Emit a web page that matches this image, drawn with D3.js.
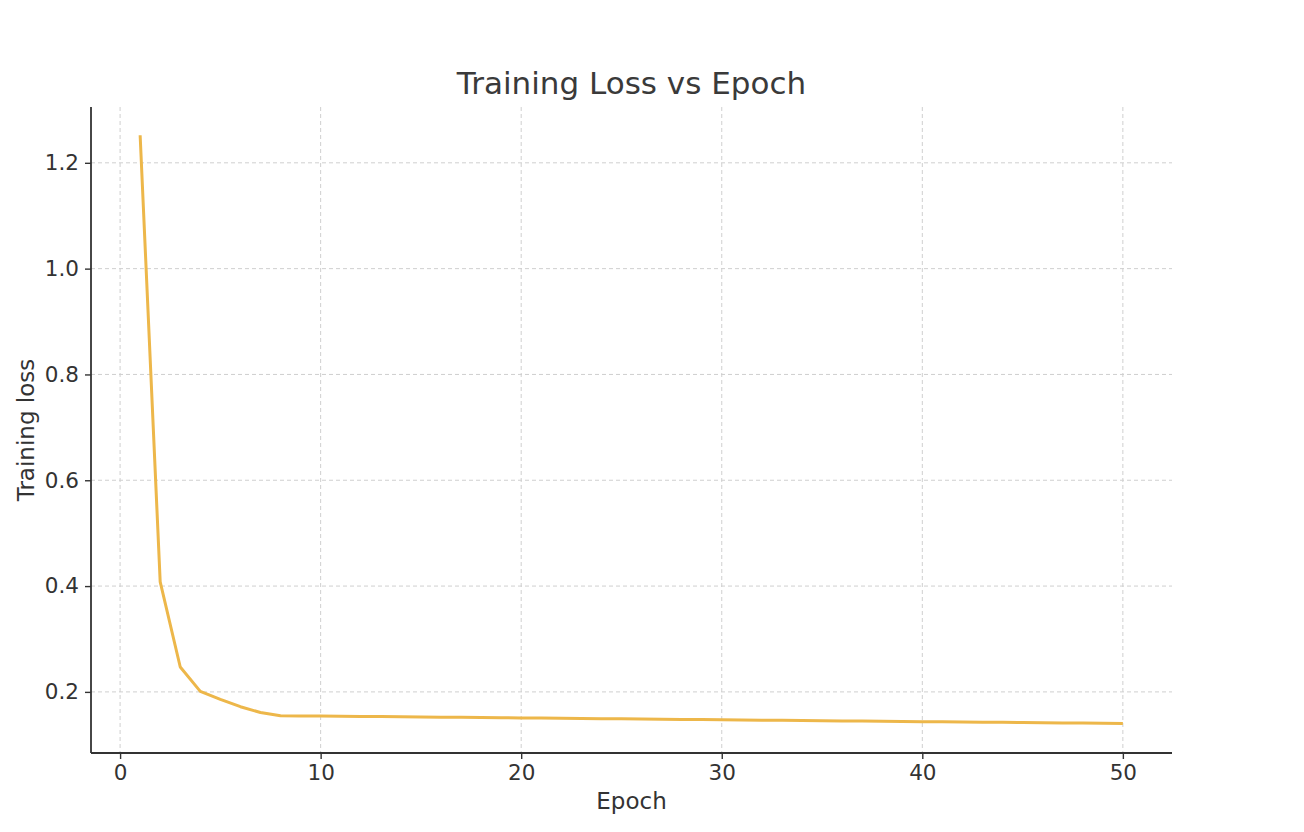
<!DOCTYPE html>
<html>
<head>
<meta charset="utf-8">
<script src="https://cdn.jsdelivr.net/npm/d3@7"></script>
<style>
  body { margin: 0; background: #fff; }
  svg text { font-family: "DejaVu Sans", sans-serif; fill: #333; }
</style>
</head>
<body>
<div id="chart"></div>
<script>
// values
var epochs = d3.range(1, 51)
var loss = [
    1.252, 0.408, 0.247, 0.201, 0.186, 0.172, 0.161, 0.155,
    0.1546, 0.1543, 0.1540, 0.1536, 0.1533, 0.1529, 0.1526, 0.1522, 0.1519, 0.1515,
    0.1512, 0.1508, 0.1505, 0.1501, 0.1498, 0.1494, 0.1491, 0.1487, 0.1484, 0.1480,
    0.1477, 0.1473, 0.1470, 0.1466, 0.1463, 0.1459, 0.1456, 0.1452, 0.1449, 0.1445,
    0.1442, 0.1438, 0.1435, 0.1431, 0.1428, 0.1424, 0.1421, 0.1417, 0.1414, 0.1410,
    0.1407, 0.1403
]
var xTicks = [0, 10, 20, 30, 40, 50]
var yTicks = [0.2, 0.4, 0.6, 0.8, 1.0, 1.2]

var width = 1304, height = 832
var margin = {top: 107, right: 132, bottom: 79, left: 91},
    w = width - margin.left - margin.right,
    h = height - margin.top - margin.bottom

var svg = d3.select("#chart").append("svg")
    .attr("width", width)
    .attr("height", height)

var g = svg.append("g")
    .attr("transform", "translate(" + margin.left + "," + margin.top + ")")

// matplotlib-style 5% padding around the data
var x = d3.scaleLinear().domain([-1.45, 52.45]).range([0, w])
var y = d3.scaleLinear().domain([0.0845, 1.3055]).range([h, 0])

// grid
g.append("g").selectAll("line").data(xTicks).enter().append("line")
    .attr("x1", function(d) { return x(d) }).attr("x2", function(d) { return x(d) })
    .attr("y1", 0).attr("y2", h)
    .attr("stroke", "#cfcfcf").attr("stroke-width", 1).attr("stroke-dasharray", "4,3")
g.append("g").selectAll("line").data(yTicks).enter().append("line")
    .attr("y1", function(d) { return y(d) }).attr("y2", function(d) { return y(d) })
    .attr("x1", 0).attr("x2", w)
    .attr("stroke", "#cfcfcf").attr("stroke-width", 1).attr("stroke-dasharray", "4,3")

// line
var data = epochs.map(function(e, i) { return {e: e, l: loss[i]} })
g.append("path")
    .datum(data)
    .attr("fill", "none")
    .attr("stroke", "#edb74a")
    .attr("stroke-width", 3)
    .attr("stroke-linejoin", "round")
    .attr("d", d3.line().x(function(d) { return x(d.e) }).y(function(d) { return y(d.l) }))

// axes
var xAxis = g.append("g")
    .attr("transform", "translate(0," + h + ")")
    .call(d3.axisBottom(x).tickValues(xTicks).tickSize(6).tickPadding(6).tickFormat(d3.format("d")))
var yAxis = g.append("g")
    .call(d3.axisLeft(y).tickValues(yTicks).tickSize(6).tickPadding(6).tickFormat(d3.format(".1f")))

;[xAxis, yAxis].forEach(function(a) {
    a.select(".domain").attr("stroke", "#333").attr("stroke-width", 1.8)
    a.selectAll(".tick line").attr("stroke", "#333").attr("stroke-width", 1.4)
    a.selectAll(".tick text").attr("font-size", 21.5).attr("fill", "#2e2e2e")
        .style("font-family", "DejaVu Sans")
})
xAxis.select(".domain").attr("d", "M0,0H" + w)
yAxis.select(".domain").attr("d", "M0," + h + "V0")

// labels
svg.append("text")
    .attr("x", margin.left + w / 2).attr("y", 94)
    .attr("text-anchor", "middle")
    .attr("font-size", 31)
    .style("fill", "#3a3a3a")
    .text("Training Loss vs Epoch")

svg.append("text")
    .attr("x", margin.left + w / 2).attr("y", 809)
    .attr("text-anchor", "middle")
    .attr("font-size", 23)
    .text("Epoch")

svg.append("text")
    .attr("transform", "translate(34," + (margin.top + h / 2) + ") rotate(-90)")
    .attr("text-anchor", "middle")
    .attr("font-size", 23)
    .text("Training loss")
</script>
</body>
</html>
